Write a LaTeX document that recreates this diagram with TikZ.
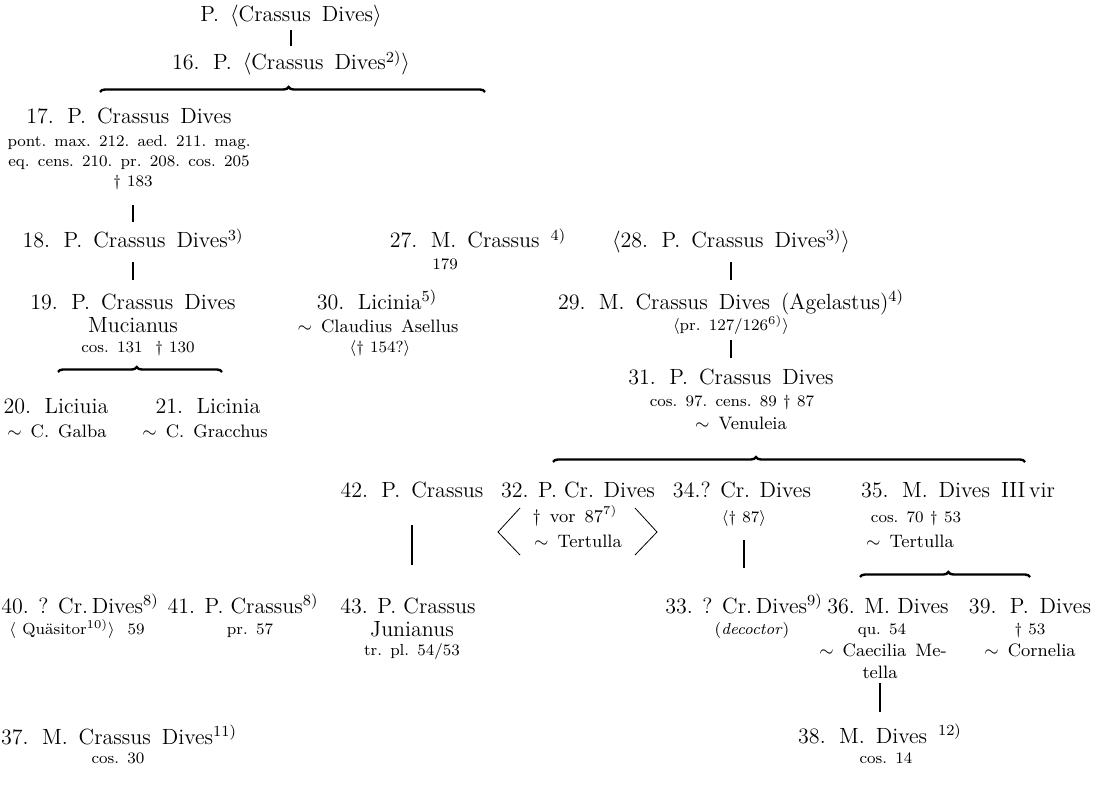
\documentclass[tikz,border=0pt]{standalone}
\usepackage{amsmath, amssymb}
\usepackage{tikz}
\usetikzlibrary{decorations.pathreplacing}

% footnote mark as printed: raised number with closing paren
\newcommand{\fnm}[1]{\textsuperscript{#1)}}
% the wide word spacing of the printed stemma
\newcommand{\widesp}{\spaceskip=0.5em plus 0.1em\relax}
\newcommand{\datesp}{\spaceskip=0.4em plus 0.1em\relax}

\begin{document}
\begin{tikzpicture}[x=0.5pt, y=-0.5pt,
    person/.style={anchor=base, inner sep=0pt,
        font=\fontsize{11}{13}\selectfont\widesp},
    tight/.style={person, font=\fontsize{11}{13}\selectfont},
    spouse/.style={anchor=base, inner sep=0pt, font=\small\widesp},
    dates/.style={anchor=base, inner sep=0pt, font=\footnotesize\datesp},
    descent/.style={line width=0.7pt},
    sibs/.style={decorate, decoration={brace, amplitude=2.5pt, aspect=#1},
        line width=1.2pt},
    sibs/.default=0.5]
    \useasboundingbox (0,0) rectangle (1101,796);

    % Generation 1-2
    \node[person] (n15) at (291,22) {P. $\langle$Crassus Dives$\rangle$};
    \node[person] (n16) at (291,70) {16. P. $\langle$Crassus Dives\fnm{2}$\rangle$};

    % Line of 17
    \node[person] (n17) at (129,124) {17. P. Crassus Dives};
    \node[dates] (n17a) at (129,147) {pont. max. 212. aed. 211. mag.};
    \node[dates] (n17b) at (129,167) {eq. cens. 210. pr. 208. cos. 205};
    \node[dates] (n17c) at (133,187) {\dag\ 183};
    \node[person] (n18) at (133,248) {18. P. Crassus Dives\fnm{3}};
    \node[person] (n19) at (133,309) {19. P. Crassus Dives};
    \node[person] (n19a) at (133,332) {Mucianus};
    \node[dates] (n19b) at (138,352) {cos. 131 \ \dag\ 130};
    \node[person] (n20) at (56,413) {20. Liciuia};
    \node[spouse] (n20a) at (57,437) {$\sim$ C. Galba};
    \node[person] (n21) at (208,413) {21. Licinia};
    \node[spouse] (n21a) at (205,437) {$\sim$ C. Gracchus};

    % 27 and 30
    \node[person] (n27) at (478,248) {27. M. Crassus \fnm{4}};
    \node[dates] (n27a) at (445,270) {179};
    \node[person] (n30) at (377,309) {30. Licinia\fnm{5}};
    \node[spouse] (n30a) at (378,332) {$\sim$ Claudius Asellus};
    \node[dates] (n30b) at (380,352) {$\langle$\dag\ 154?$\rangle$};

    % Line of 28
    \node[person] (n28) at (731,248) {$\langle$28. P. Crassus Dives\fnm{3}$\rangle$};
    \node[person] (n29) at (731,309) {29. M. Crassus Dives (Agelastus)\fnm{4}};
    \node[dates] (n29a) at (731,330) {$\langle$pr. 127/126\fnm{6}$\rangle$};
    \node[person] (n31) at (731,384) {31. P. Crassus Dives};
    \node[dates] (n31a) at (732,406) {cos. 97. cens. 89 \dag\ 87};
    \node[spouse] (n31b) at (741,429) {$\sim$ Venuleia};

    % Children of 31, and 42
    \node[person] (n42) at (412,497) {42. P. Crassus};
    \node[tight] (n32) at (578,497) {32. P. Cr. Dives};
    \node[spouse] (n32a) at (575,522) {\dag\ vor 87\fnm{7}};
    \node[spouse] (n32b) at (578,547) {$\sim$ Tertulla};
    \node[tight] (n34) at (742,497) {34.? Cr. Dives};
    \node[dates] (n34a) at (744,522) {$\langle$\dag\ 87$\rangle$};
    \node[person] (n35) at (958,497) {35. M. Dives III\,vir};
    \node[dates] (n35a) at (916,522) {cos. 70 \dag\ 53};
    \node[spouse] (n35b) at (910,547) {$\sim$ Tertulla};

    % Next generation
    \node[tight] (n40) at (80,613) {40. ? Cr.\,Dives\fnm{8}};
    \node[dates] (n40a) at (77,634) {$\langle$ Quäsitor\fnm{10}$\rangle$ \ 59};
    \node[tight] (n41) at (243,613) {41. P. Crassus\fnm{8}};
    \node[dates] (n41a) at (250,634) {pr. 57};
    \node[tight] (n43) at (408,613) {43. P. Crassus};
    \node[person] (n43a) at (412,636) {Junianus};
    \node[dates] (n43b) at (412,655) {tr. pl. 54/53};
    \node[tight] (n33) at (744,613) {33. ? Cr.\,Dives\fnm{9}};
    \node[dates] (n33a) at (752,634) {(\textit{decoctor})};
    \node[tight] (n36) at (888,613) {36. M. Dives};
    \node[dates] (n36a) at (882,634) {qu. 54};
    \node[spouse] (n36b) at (883,656) {$\sim$ Caecilia Me-};
    \node[spouse] (n36c) at (880,678) {tella};
    \node[person] (n39) at (1030,613) {39. P. Dives};
    \node[dates] (n39a) at (1030,634) {\dag\ 53};
    \node[spouse] (n39b) at (1030,656) {$\sim$ Cornelia};
    \node[person] (n37) at (119,744) {37. M. Crassus Dives\fnm{11}};
    \node[dates] (n37a) at (118,763) {cos. 30};
    \node[person] (n38) at (880,743) {38. M. Dives \fnm{12}};
    \node[dates] (n38a) at (886,763) {cos. 14};

    % loose ends of the short descents
    \coordinate (e42) at (412,565);
    \coordinate (e34) at (744,568);

    % Descents
    \draw[descent] ([yshift=-4pt]n15.base) -- ([yshift=12pt]n16.base);
    \draw[descent] ([yshift=-9pt]n17c.base) -- ([yshift=13pt]n18.base);
    \draw[descent] ([yshift=-7pt]n18.base) -- ([yshift=14.5pt]n19.base);
    \draw[descent] ([yshift=-7pt]n28.base) -- ([yshift=14.5pt]n29.base);
    \draw[descent] ([yshift=-5pt]n29a.base) -- ([yshift=13pt]n31.base);
    \draw[descent] ([yshift=-14pt]n42.base) -- (e42);
    \draw[descent] ([yshift=-9pt]n34a.base) -- (e34);
    \draw[descent] ([yshift=-2.5pt]n36c.base) -- ([yshift=15.5pt]n38.base);

    % Sibling braces
    \coordinate (b16l) at (100,92);
    \coordinate (b16r) at (485,92);
    \coordinate (b19l) at (58,372);
    \coordinate (b19r) at (222,372);
    \coordinate (b31l) at (553,462);
    \coordinate (b31r) at (1025,462);
    \coordinate (b35l) at (860,577);
    \coordinate (b35r) at (1030,577);
    \draw[sibs=0.49] (b16l) -- (b16r);
    \draw[sibs=0.48] (b19l) -- (b19r);
    \draw[sibs=0.43] (b31l) -- (b31r);
    \draw[sibs=0.52] (b35l) -- (b35r);

    % brackets round the notes of 32
    \draw (520,508) -- (498,532) -- (520,555);
    \draw (635,508) -- (657,532) -- (635,555);
\end{tikzpicture}
\end{document}
